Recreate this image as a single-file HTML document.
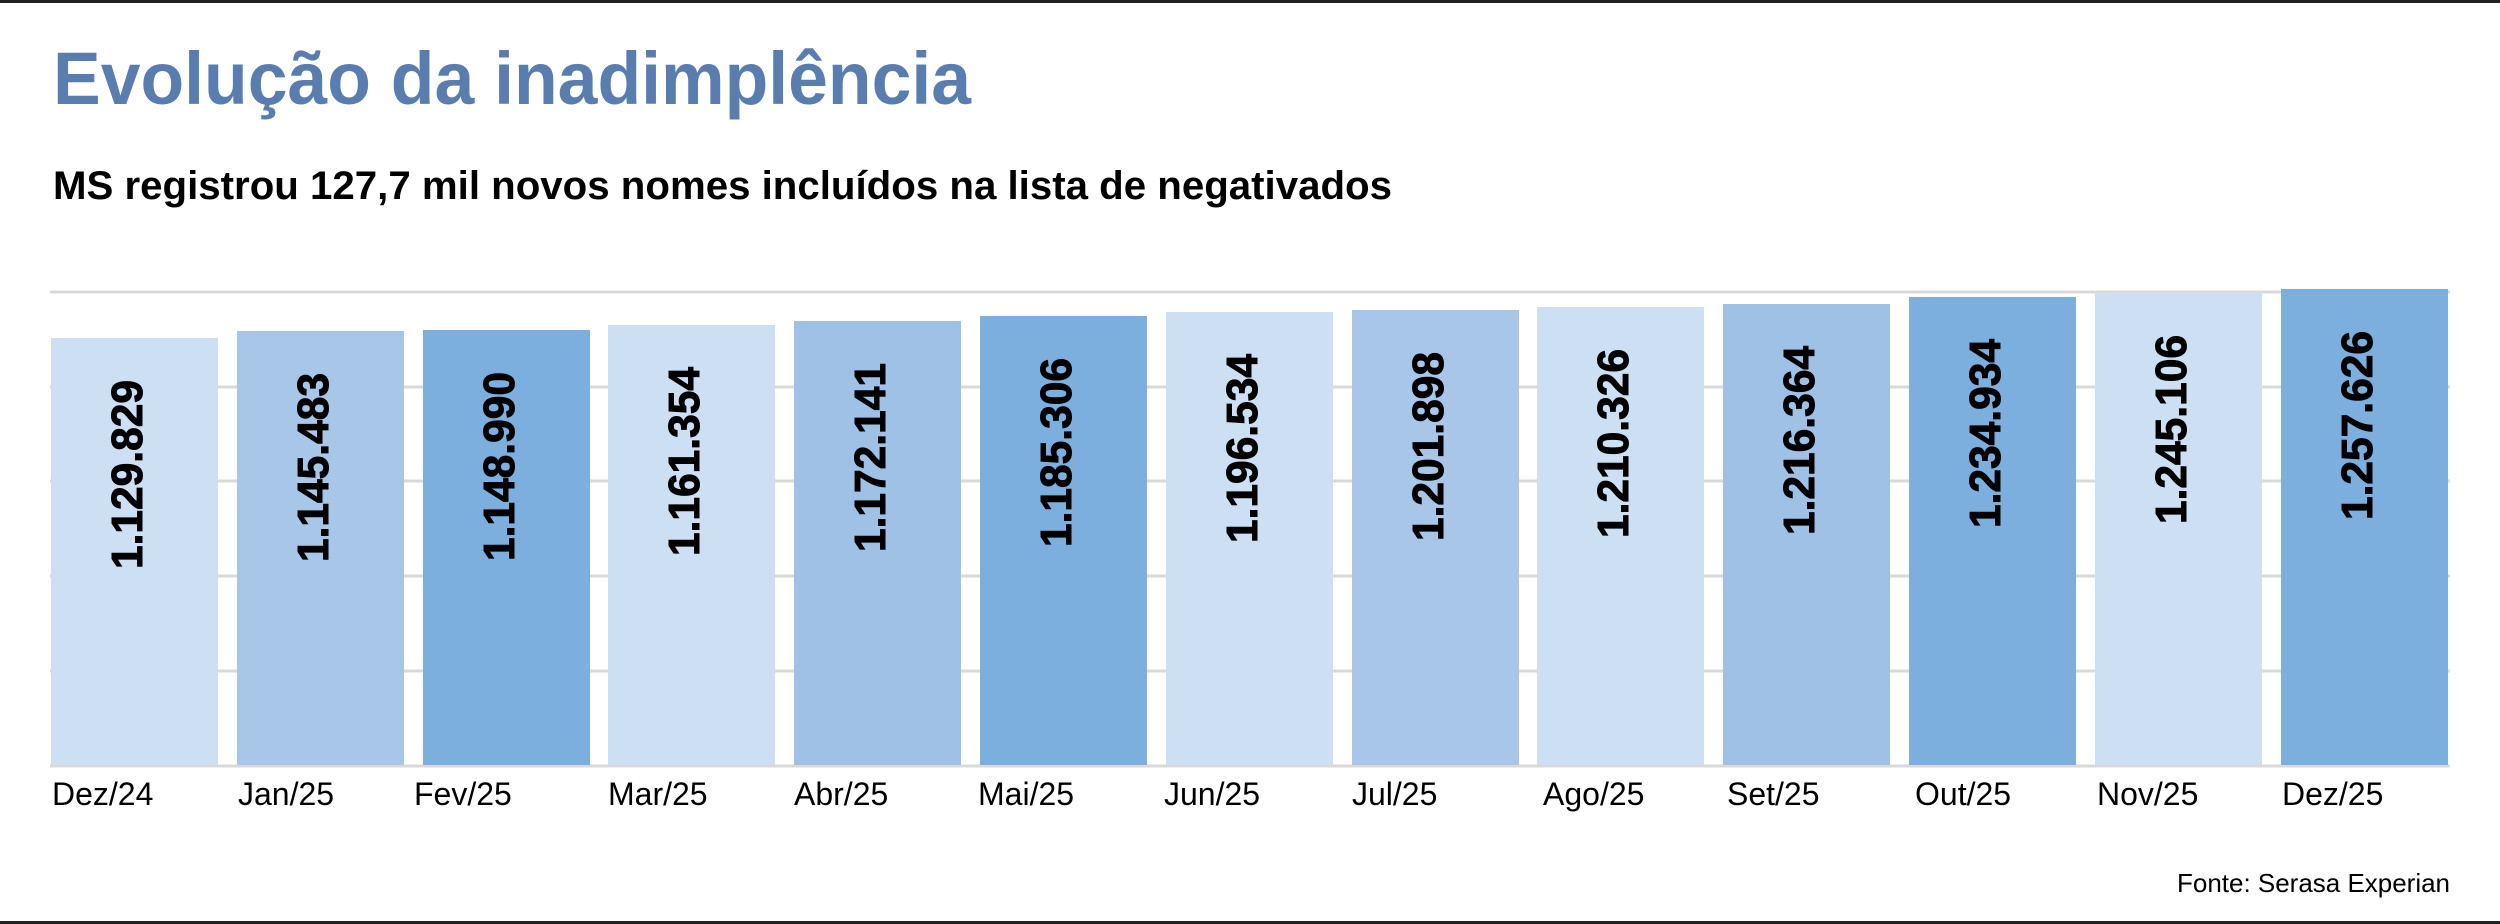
<!DOCTYPE html>
<html><head><meta charset="utf-8"><style>
html,body{margin:0;padding:0;background:#fff;}
svg{display:block;}
</style></head><body>
<svg width="2500" height="924" viewBox="0 0 2500 924" xmlns="http://www.w3.org/2000/svg">
<rect x="0" y="0" width="2500" height="924" fill="#fff"/>
<rect x="0" y="0" width="2500" height="3" fill="#222"/>
<rect x="0" y="921" width="2500" height="3" fill="#222"/>
<text x="53" y="104" font-family="Liberation Sans, sans-serif" font-weight="bold" font-size="74" fill="#5a7db0" textLength="918" lengthAdjust="spacingAndGlyphs">Evolução da inadimplência</text>
<text x="53" y="199" font-family="Liberation Sans, sans-serif" font-weight="bold" font-size="40" fill="#000" textLength="1339" lengthAdjust="spacingAndGlyphs">MS registrou 127,7 mil novos nomes incluídos na lista de negativados</text>
<g stroke="#d9d9d9" stroke-width="3">
<line x1="50" x2="2450" y1="292" y2="292"/>
<line x1="50" x2="2450" y1="387" y2="387"/>
<line x1="50" x2="2450" y1="481" y2="481"/>
<line x1="50" x2="2450" y1="576" y2="576"/>
<line x1="50" x2="2450" y1="671" y2="671"/>
<line x1="50" x2="2450" y1="766" y2="766"/>
</g>
<g font-family="Liberation Sans, sans-serif">
<rect x="51" y="338" width="167" height="427" fill="#cddff3"/>
<rect x="237" y="331" width="167" height="434" fill="#a8c6e8"/>
<rect x="423" y="330" width="167" height="435" fill="#7cafdd"/>
<rect x="608" y="325" width="167" height="440" fill="#cddff3"/>
<rect x="794" y="321" width="167" height="444" fill="#9fc1e6"/>
<rect x="980" y="316" width="167" height="449" fill="#7cafdd"/>
<rect x="1166" y="312" width="167" height="453" fill="#cddff3"/>
<rect x="1352" y="310" width="167" height="455" fill="#a8c6e8"/>
<rect x="1537" y="307" width="167" height="458" fill="#cddff3"/>
<rect x="1723" y="304" width="167" height="461" fill="#9fc1e6"/>
<rect x="1909" y="297" width="167" height="468" fill="#7cafdd"/>
<rect x="2095" y="293" width="167" height="472" fill="#cddff3"/>
<rect x="2281" y="289" width="167" height="476" fill="#7cafdd"/>
<g font-weight="bold" font-size="44" fill="#000" text-anchor="end" stroke="#000" stroke-width="1">
<text transform="translate(142,380) rotate(-90)" textLength="189" lengthAdjust="spacingAndGlyphs">1.129.829</text>
<text transform="translate(328,373) rotate(-90)" textLength="189" lengthAdjust="spacingAndGlyphs">1.145.483</text>
<text transform="translate(514,372) rotate(-90)" textLength="189" lengthAdjust="spacingAndGlyphs">1.148.990</text>
<text transform="translate(699,367) rotate(-90)" textLength="189" lengthAdjust="spacingAndGlyphs">1.161.354</text>
<text transform="translate(885,363) rotate(-90)" textLength="189" lengthAdjust="spacingAndGlyphs">1.172.141</text>
<text transform="translate(1071,358) rotate(-90)" textLength="189" lengthAdjust="spacingAndGlyphs">1.185.306</text>
<text transform="translate(1257,354) rotate(-90)" textLength="189" lengthAdjust="spacingAndGlyphs">1.196.534</text>
<text transform="translate(1443,352) rotate(-90)" textLength="189" lengthAdjust="spacingAndGlyphs">1.201.898</text>
<text transform="translate(1628,349) rotate(-90)" textLength="189" lengthAdjust="spacingAndGlyphs">1.210.326</text>
<text transform="translate(1814,346) rotate(-90)" textLength="189" lengthAdjust="spacingAndGlyphs">1.216.364</text>
<text transform="translate(2000,339) rotate(-90)" textLength="189" lengthAdjust="spacingAndGlyphs">1.234.934</text>
<text transform="translate(2186,335) rotate(-90)" textLength="189" lengthAdjust="spacingAndGlyphs">1.245.106</text>
<text transform="translate(2372,331) rotate(-90)" textLength="189" lengthAdjust="spacingAndGlyphs">1.257.626</text>
</g>
<g font-size="32" fill="#000">
<text x="52" y="805">Dez/24</text>
<text x="238" y="805">Jan/25</text>
<text x="414" y="805">Fev/25</text>
<text x="608" y="805">Mar/25</text>
<text x="794" y="805">Abr/25</text>
<text x="978" y="805">Mai/25</text>
<text x="1164" y="805">Jun/25</text>
<text x="1352" y="805">Jul/25</text>
<text x="1543" y="805">Ago/25</text>
<text x="1727" y="805">Set/25</text>
<text x="1915" y="805">Out/25</text>
<text x="2097" y="805">Nov/25</text>
<text x="2282" y="805">Dez/25</text>
</g>
<text x="2450" y="892" font-size="26" fill="#000" text-anchor="end" textLength="273" lengthAdjust="spacingAndGlyphs">Fonte: Serasa Experian</text>
</g>
</svg>
</body></html>
